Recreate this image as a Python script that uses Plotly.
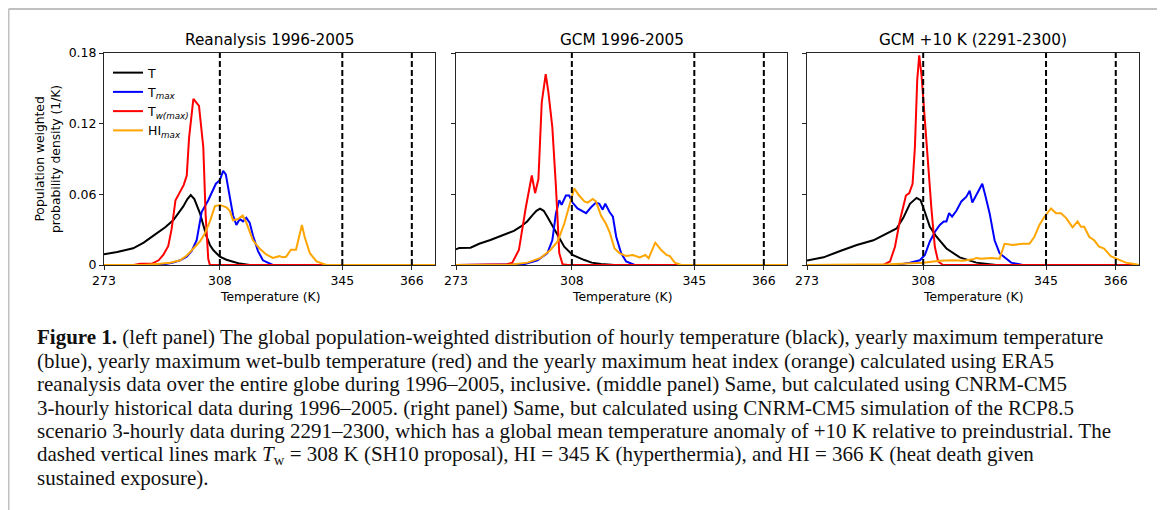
import plotly.graph_objects as go

# The page body adds an 8 px margin, so the figure is sized to the visible part
PAGE_OFF = 8
W, H = 1165 - PAGE_OFF, 510 - PAGE_OFF

# ---------------- data ----------------
thresholds = [308, 345, 366]
x_ticks = [273, 308, 345, 366]
y_ticks = [0, 0.06, 0.12, 0.18]
y_tick_text = ["0", "0.06", "0.12", "0.18"]
panel_titles = ["Reanalysis 1996-2005", "GCM 1996-2005", "GCM +10 K (2291-2300)"]
series_names = ["T", "T<sub><i>max</i></sub>", "T<sub><i>w(max)</i></sub>", "HI<sub><i>max</i></sub>"]
series_colors = ["#000000", "#0000ff", "#ff0000", "#ffa500"]

# Panel 1 : Reanalysis 1996-2005
p1_T_x = [273, 277, 281.8, 285, 288.9, 291.5, 293.9, 295.5, 296.9, 298.2, 299.2, 300.3, 302, 303, 304, 305, 306, 308, 310, 312, 314, 317, 373]
p1_T_y = [0.0091, 0.011, 0.0142, 0.019, 0.0269, 0.032, 0.038, 0.044, 0.0495, 0.056, 0.0594, 0.056, 0.0439, 0.034, 0.024, 0.017, 0.0127, 0.007, 0.0045, 0.0028, 0.0012, 0.0, 0.0]
p1_Tmax_x = [273, 290, 293.9, 296, 298, 299.5, 301, 302.5, 304.5, 306.8, 308, 309, 309.8, 311, 312, 313, 314, 315, 316, 317, 318, 319.5, 321, 324, 373]
p1_Tmax_y = [0.0, 0.0, 0.002, 0.004, 0.007, 0.012, 0.021, 0.045, 0.055, 0.069, 0.072, 0.080, 0.077, 0.057, 0.042, 0.034, 0.039, 0.037, 0.040, 0.036, 0.025, 0.012, 0.004, 0.0, 0.0]
p1_Tw_x = [273, 282, 283.9, 287.4, 289.5, 290.9, 292.4, 293.4, 294.6, 296, 297.1, 298, 298.7, 300, 301.7, 303, 303.7, 304.5, 305, 373]
p1_Tw_y = [0.0, 0.0, 0.001, 0.001, 0.004, 0.0085, 0.016, 0.030, 0.055, 0.063, 0.068, 0.076, 0.108, 0.141, 0.135, 0.100, 0.043, 0.005, 0.0, 0.0]
p1_HI_x = [273, 285, 289.9, 293, 296, 298, 300, 302, 303.5, 305, 306.5, 308, 310, 311, 312, 313.5, 314.9, 316, 318, 320, 322, 324, 326, 327, 328, 329.5, 331, 332, 332.8, 333.6, 335.2, 337.2, 340.2, 373]
p1_HI_y = [0.0, 0.0, 0.001, 0.002, 0.004, 0.008, 0.014, 0.020, 0.027, 0.037, 0.050, 0.051, 0.049, 0.046, 0.038, 0.039, 0.042, 0.036, 0.021, 0.014, 0.009, 0.006, 0.0075, 0.0065, 0.007, 0.013, 0.013, 0.024, 0.034, 0.024, 0.010, 0.003, 0.0, 0.0]

# Panel 2 : GCM 1996-2005
p2_T_x = [273, 274, 277.4, 280, 283.4, 286, 288.5, 290.5, 292.5, 294.5, 296.1, 297.3, 298.4, 299.5, 300.6, 302, 303.2, 304.5, 305.7, 308.2, 310, 311.8, 314, 316.8, 320.9, 373]
p2_T_y = [0.0133, 0.0145, 0.0147, 0.018, 0.0212, 0.024, 0.0268, 0.029, 0.0325, 0.037, 0.0424, 0.046, 0.0478, 0.046, 0.041, 0.034, 0.0268, 0.021, 0.0155, 0.0085, 0.006, 0.0042, 0.002, 0.0008, 0.0, 0.0]
p2_Tmax_x = [273, 290, 293.5, 297.6, 300.6, 302.1, 303.2, 304.2, 304.9, 306.2, 307.2, 308.2, 309.7, 312.3, 313.8, 315.3, 316.3, 317.3, 318.1, 319.4, 320.4, 321.4, 322.9, 324.4, 327, 373]
p2_Tmax_y = [0.0, 0.0, 0.0006, 0.004, 0.010, 0.021, 0.044, 0.055, 0.051, 0.059, 0.059, 0.053, 0.048, 0.044, 0.049, 0.053, 0.052, 0.047, 0.052, 0.045, 0.041, 0.024, 0.010, 0.003, 0.0, 0.0]
p2_Tw_x = [273, 287, 288.5, 290, 292, 294.1, 295.1, 295.9, 296.9, 297.9, 298.9, 300.1, 300.9, 302.1, 303.2, 304.2, 305.2, 306.7, 373]
p2_Tw_y = [0.0, 0.0, 0.0006, 0.002, 0.0127, 0.049, 0.066, 0.076, 0.061, 0.073, 0.138, 0.162, 0.147, 0.117, 0.066, 0.010, 0.0006, 0.0, 0.0]
p2_HI_x = [273, 288.5, 294.6, 298.6, 301.6, 303.7, 305.7, 307.2, 308.7, 310.2, 311.8, 312.8, 314.3, 315.3, 316.8, 318.3, 319.4, 320.9, 322.4, 324.4, 326.4, 328.5, 330.2, 331.2, 333.2, 335, 336.6, 337.6, 339.1, 341.1, 373]
p2_HI_y = [0.0, 0.0, 0.002, 0.006, 0.013, 0.020, 0.035, 0.049, 0.065, 0.059, 0.054, 0.053, 0.056, 0.054, 0.042, 0.035, 0.028, 0.014, 0.010, 0.0076, 0.0085, 0.0065, 0.0085, 0.0057, 0.019, 0.0127, 0.0085, 0.0076, 0.002, 0.0, 0.0]

# Panel 3 : GCM +10 K (2291-2300)
p3_T_x = [273, 278, 283, 288, 293, 297, 300, 302, 304, 306, 307.2, 308.5, 310, 312, 315, 319, 324, 330, 373]
p3_T_y = [0.0037, 0.0065, 0.0119, 0.017, 0.021, 0.027, 0.031, 0.040, 0.052, 0.057, 0.055, 0.045, 0.0325, 0.024, 0.014, 0.0065, 0.002, 0.0, 0.0]
p3_Tmax_x = [273, 300, 304, 307, 308.5, 310, 311.5, 313, 314.2, 315, 315.8, 316.7, 318, 319.5, 321, 322, 322.8, 323.8, 324.8, 325.8, 326.8, 328, 329.5, 331, 332.5, 334.5, 338, 373]
p3_Tmax_y = [0.0, 0.0, 0.002, 0.004, 0.0085, 0.020, 0.028, 0.034, 0.037, 0.037, 0.044, 0.041, 0.046, 0.054, 0.058, 0.063, 0.053, 0.058, 0.064, 0.069, 0.058, 0.044, 0.021, 0.010, 0.0065, 0.002, 0.0, 0.0]
p3_Tw_x = [273, 296, 298, 299.5, 301, 302.8, 303.8, 304.8, 305.5, 306.2, 306.8, 307.5, 308.5, 309.5, 310.5, 311.5, 312.5, 314, 373]
p3_Tw_y = [0.0, 0.0, 0.003, 0.0155, 0.038, 0.059, 0.061, 0.069, 0.100, 0.157, 0.178, 0.161, 0.123, 0.081, 0.047, 0.0155, 0.003, 0.0, 0.0]
p3_HI_x = [273, 298, 308, 313, 317, 320, 323, 324, 325.5, 327, 328.5, 331, 332.5, 335, 338, 340, 341.5, 343, 344.5, 346.5, 348, 349.5, 351, 353, 354.5, 355.5, 356.5, 358, 359.5, 361, 362.5, 364.5, 366.5, 369, 372, 373]
p3_HI_y = [0.0, 0.0006, 0.002, 0.0037, 0.004, 0.0037, 0.0048, 0.006, 0.0054, 0.006, 0.006, 0.0054, 0.018, 0.017, 0.018, 0.018, 0.024, 0.034, 0.041, 0.048, 0.044, 0.044, 0.040, 0.032, 0.037, 0.0325, 0.0325, 0.024, 0.021, 0.0155, 0.014, 0.0076, 0.0048, 0.002, 0.0006, 0.0]

panels = [
    [(p1_T_x, p1_T_y), (p1_Tmax_x, p1_Tmax_y), (p1_Tw_x, p1_Tw_y), (p1_HI_x, p1_HI_y)],
    [(p2_T_x, p2_T_y), (p2_Tmax_x, p2_Tmax_y), (p2_Tw_x, p2_Tw_y), (p2_HI_x, p2_HI_y)],
    [(p3_T_x, p3_T_y), (p3_Tmax_x, p3_Tmax_y), (p3_Tw_x, p3_Tw_y), (p3_HI_x, p3_HI_y)],
]

caption_lines = [
    "<b>Figure 1.</b> (left panel) The global population-weighted distribution of hourly temperature (black), yearly maximum temperature",
    "(blue), yearly maximum wet-bulb temperature (red) and the yearly maximum heat index (orange) calculated using ERA5",
    "reanalysis data over the entire globe during 1996–2005, inclusive. (middle panel) Same, but calculated using CNRM-CM5",
    "3-hourly historical data during 1996–2005. (right panel) Same, but calculated using CNRM-CM5 simulation of the RCP8.5",
    "scenario 3-hourly data during 2291–2300, which has a global mean temperature anomaly of +10 K relative to preindustrial. The",
    "dashed vertical lines mark <i>T</i><sub>w</sub> = 308 K (SH10 proposal), HI = 345 K (hyperthermia), and HI = 366 K (heat death given",
    "sustained exposure).",
]

# ---------------- layout helpers (page pixels -> paper fractions) ----------------
def px_x(p):
    return (p - PAGE_OFF) / W

def px_y(p):
    return 1 - (p - PAGE_OFF) / H

x_domains = [(104, 435), (456, 787), (807, 1139)]
y_top, y_bot = 53, 265
X_RANGE = [273, 373]
Y_RANGE = [0, 0.18]

AXCOL = "#262626"
SANS = "DejaVu Sans"
SERIF = "Liberation Serif"

fig = go.Figure()

for pi, panel in enumerate(panels):
    xa = "x" if pi == 0 else f"x{pi+1}"
    ya = "y" if pi == 0 else f"y{pi+1}"
    for si, (xs, ys) in enumerate(panel):
        fig.add_trace(go.Scatter(
            x=xs, y=ys, mode="lines", xaxis=xa, yaxis=ya,
            name=series_names[si], showlegend=(pi == 0),
            line=dict(color=series_colors[si], width=2),
            hoverinfo="skip",
        ))
    for t in thresholds:
        fig.add_trace(go.Scatter(
            x=[t, t], y=Y_RANGE, mode="lines", xaxis=xa, yaxis=ya,
            showlegend=False, hoverinfo="skip",
            line=dict(color="#000000", width=2, dash="6px,3px"),
        ))

layout = dict(
    template="none",
    width=W, height=H,
    margin=dict(l=0, r=0, t=0, b=0, pad=0, autoexpand=False),
    paper_bgcolor="white", plot_bgcolor="white",
    showlegend=True,
    legend=dict(
        x=px_x(108), y=px_y(58), xanchor="left", yanchor="top",
        bgcolor="rgba(0,0,0,0)", borderwidth=0,
        font=dict(family=SANS, size=12.5, color="#000"),
        itemwidth=30, tracegroupgap=0,
    ),
)

for pi, (x0, x1) in enumerate(x_domains):
    xkey = "xaxis" if pi == 0 else f"xaxis{pi+1}"
    ykey = "yaxis" if pi == 0 else f"yaxis{pi+1}"
    yanchor = "y" if pi == 0 else f"y{pi+1}"
    xanchor = "x" if pi == 0 else f"x{pi+1}"
    layout[xkey] = dict(
        domain=[px_x(x0), px_x(x1)], anchor=yanchor, range=X_RANGE, automargin=False,
        tickvals=x_ticks, ticktext=[str(v) for v in x_ticks],
        showline=True, mirror=True, linecolor=AXCOL, linewidth=1,
        ticks="outside", ticklen=4, tickcolor=AXCOL, tickwidth=1,
        showgrid=False, zeroline=False,
        tickfont=dict(family=SANS, size=12.5, color="#000"),
    )
    layout[ykey] = dict(
        domain=[px_y(y_bot), px_y(y_top)], anchor=xanchor, range=Y_RANGE, automargin=False,
        tickvals=y_ticks, ticktext=y_tick_text, showticklabels=(pi == 0),
        showline=True, mirror=True, linecolor=AXCOL, linewidth=1,
        ticks="outside", ticklen=4, tickcolor=AXCOL, tickwidth=1,
        showgrid=False, zeroline=False,
        tickfont=dict(family=SANS, size=12.5, color="#000"),
    )

annotations = []
for pi, (x0, x1) in enumerate(x_domains):
    cx = (x0 + x1) / 2
    annotations.append(dict(
        text=panel_titles[pi], x=px_x(cx), y=px_y(40), xref="paper", yref="paper",
        xanchor="center", yanchor="middle", showarrow=False,
        font=dict(family=SANS, size=15.3, color="#000"),
    ))
    annotations.append(dict(
        text="Temperature (K)", x=px_x(cx), y=px_y(297), xref="paper", yref="paper",
        xanchor="center", yanchor="middle", showarrow=False,
        font=dict(family=SANS, size=12.3, color="#000"),
    ))

annotations.append(dict(
    text="Population weighted<br>probability density (1/K)",
    x=px_x(48), y=px_y((y_top + y_bot) / 2), xref="paper", yref="paper",
    xanchor="center", yanchor="middle", showarrow=False, textangle=-90,
    font=dict(family=SANS, size=12.3, color="#000"),
))

for li, line in enumerate(caption_lines):
    annotations.append(dict(
        text=line, x=px_x(35), y=px_y(337 + li * 23.5), xref="paper", yref="paper",
        xanchor="left", yanchor="middle", showarrow=False, align="left",
        font=dict(family=SERIF, size=21, color="#111"),
    ))

layout["annotations"] = annotations

# outer page frame (light grey, open at the bottom)
FRAME_L, FRAME_R, FRAME_T = 8.5, 1162, 9
layout["shapes"] = [
    dict(type="line", xref="paper", yref="paper", x0=px_x(FRAME_L), x1=px_x(FRAME_L), y0=px_y(FRAME_T), y1=0,
         line=dict(color="#c0c0c0", width=2)),
    dict(type="line", xref="paper", yref="paper", x0=px_x(FRAME_L), x1=px_x(FRAME_R), y0=px_y(FRAME_T), y1=px_y(FRAME_T),
         line=dict(color="#c0c0c0", width=2)),
    dict(type="line", xref="paper", yref="paper", x0=px_x(FRAME_R), x1=px_x(FRAME_R), y0=px_y(FRAME_T), y1=0,
         line=dict(color="#c0c0c0", width=2)),
]

fig.update_layout(**layout)
fig.write_html("out.html")
